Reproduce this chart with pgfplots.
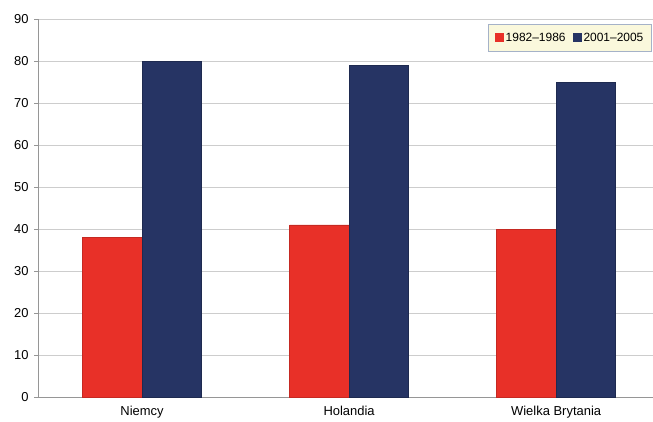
\documentclass[border=0pt]{standalone}
\usepackage{fontspec}
\setmainfont{Liberation Sans}
\usepackage{pgfplots}
\pgfplotsset{compat=1.18}

\definecolor{barred}{RGB}{232,48,40}
\definecolor{barblue}{RGB}{38,52,100}
\definecolor{gridgray}{RGB}{205,205,205}
\definecolor{axisgray}{RGB}{150,150,150}
\definecolor{legfill}{RGB}{250,248,220}
\definecolor{legdraw}{RGB}{165,178,200}

\begin{document}
\begin{tikzpicture}[x=1bp,y=1bp]
\useasboundingbox (0,0) rectangle (653,421);
\begin{axis}[
  at={(38.5bp,24bp)}, anchor=south west,
  scale only axis,
  width=614.5bp, height=378bp,
  ybar=0pt, bar width=59.5bp,
  xmin=-0.5, xmax=2.468,
  ymin=0, ymax=90,
  ytick={0,10,...,90},
  xtick={0,1,2},
  xticklabels={Niemcy, Holandia, Wielka Brytania},
  extra x ticks={0.5,1.5},
  extra x tick labels={},
  extra x tick style={grid=none, major tick length=3bp, tick style={axisgray}},
  major x tick style={draw=none},
  ymajorgrids,
  grid style={gridgray, line width=0.8pt},
  axis line style={axisgray, line width=0.8pt},
  axis x line*=bottom,
  axis y line*=left,
  tick align=outside,
  major tick length=4.5bp,
  tick style={axisgray, line width=0.8pt},
  ticklabel style={font=\fontsize{13}{15}\selectfont, text=black},
  /pgf/number format/assume math mode=true,
  yticklabel style={xshift=-2bp},
  xticklabel style={yshift=-1bp},
  legend style={
    at={(0.998,0.987)}, anchor=north east,
    legend columns=2,
    fill=legfill, draw=legdraw, line width=0.8pt,
    font=\fontsize{12}{14}\selectfont,
    inner xsep=6bp, inner ysep=6.5bp,
    /tikz/every even column/.append style={column sep=5bp},
  },
  legend image code/.code={
    \draw[#1, draw=none] (0bp,-4.5bp) rectangle (9bp,4.5bp);
  },
]
\addplot[fill=barred, draw=barred!85!black, line width=0.4pt]
  coordinates {(0,38) (1,41) (2,40)};
\addplot[fill=barblue, draw=barblue!80!black, line width=0.4pt]
  coordinates {(0,80) (1,79) (2,75)};
\legend{1982--1986, 2001--2005}
\end{axis}
\end{tikzpicture}
\end{document}
